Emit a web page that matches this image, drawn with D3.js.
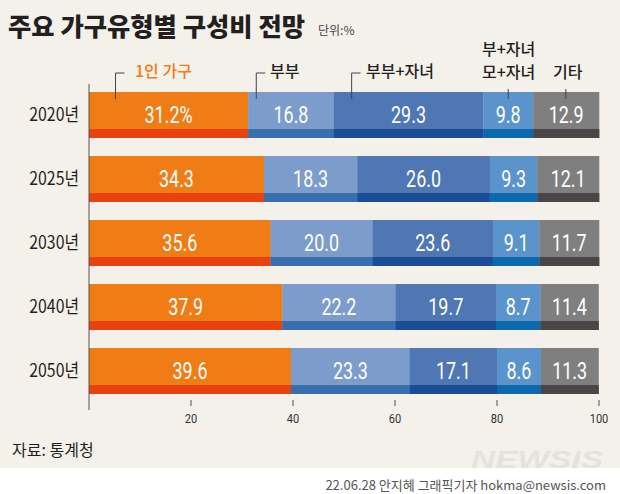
<!DOCTYPE html>
<html><head><meta charset="utf-8">
<script src="https://cdn.jsdelivr.net/npm/d3@7"></script>
<style>
html,body{margin:0;padding:0;background:#fff;}
svg{display:block;}
</style></head>
<body>
<svg id="c" width="620" height="494"></svg>
<script>
const years = ["2020년","2025년","2030년","2040년","2050년"];
const seriesNames = ["1인 가구","부부","부부+자녀","부+자녀/모+자녀","기타"];
const oneP   = [31.2, 34.3, 35.6, 37.9, 39.6];
const couple = [16.8, 18.3, 20.0, 22.2, 23.3];
const coupleKids = [29.3, 26.0, 23.6, 19.7, 17.1];
const singleParent = [9.8, 9.3, 9.1, 8.7, 8.6];
const other = [12.9, 12.1, 11.7, 11.4, 11.3];
const ticks = [20, 40, 60, 80, 100];

const fills = ["#EF7C15","#7C9DCC","#4F77B4","#5B94CC","#7F7F7F"];
const stripes = ["#E8420E","#3A6FAE","#1E4B97","#0C69AD","#4A4546"];

const svg = d3.select("#c");
const W = 620, H = 494;
svg.append("rect").attr("width",W).attr("height",468).attr("fill","#F4F1EB");
svg.append("rect").attr("y",468).attr("width",W).attr("height",H-468).attr("fill","#FFFFFF");

const x = d3.scaleLinear().domain([0,100]).range([89,599]);
const y = d3.scalePoint().domain(years).range([92,348]);

const allSeries = [oneP, couple, coupleKids, singleParent, other];
const rows = years.map((yr,i)=>{
  let acc = 0;
  return allSeries.map((s,k)=>{ const d={year:yr,k,v:s[i],x0:acc,x1:acc+s[i]}; acc+=s[i]; return d;});
});

const bh = 46, sh = 9;
const g = svg.append("g");
rows.forEach((row,i)=>{
  const y0 = y(years[i]);
  row.forEach(d=>{
    g.append("rect").attr("x",x(d.x0)).attr("y",y0).attr("width",x(d.x1)-x(d.x0)+0.3).attr("height",bh).attr("fill",fills[d.k]);
    g.append("rect").attr("x",x(d.x0)).attr("y",y0+bh-sh).attr("width",x(d.x1)-x(d.x0)+0.3).attr("height",sh).attr("fill",stripes[d.k]);
    g.append("g").attr("transform",`translate(${(x(d.x0)+x(d.x1))/2},${y0+30.5}) scale(0.78,1)`)
      .append("text").attr("text-anchor","middle").attr("fill","#fff")
      .style("font-family","Roboto,'Liberation Sans',sans-serif")
      .style("font-size","23px")
      .text(d.k===0 && i===0 ? d.v.toFixed(1)+"%" : d.v.toFixed(1));
  });
  svg.append("g").attr("transform",`translate(79,${y0+29}) scale(0.88,1)`)
    .append("text").attr("text-anchor","end")
    .attr("fill","#231F20").style("font-family","'Noto Sans CJK KR',sans-serif").style("font-weight","400").style("font-size","18px")
    .text(years[i]);
});

// axis
svg.append("line").attr("x1",89).attr("x2",89).attr("y1",84).attr("y2",410).attr("stroke","#555").attr("stroke-width",1);
const ax = svg.append("g");
ticks.forEach(t=>{
  ax.append("line").attr("x1",x(t)).attr("x2",x(t)).attr("y1",400).attr("y2",406).attr("stroke","#555");
  ax.append("g").attr("transform",`translate(${x(t)},423) scale(0.85,1)`)
    .append("text").attr("text-anchor","middle")
    .attr("fill","#333").style("font-family","Roboto,sans-serif").style("font-size","13px").text(t);
});

// title
svg.append("text").attr("x",8).attr("y",36).attr("fill","#231F20")
  .style("font-family","'Noto Sans CJK KR',sans-serif").style("font-weight","900").style("font-size","25px")
  .attr("textLength",297).attr("lengthAdjust","spacingAndGlyphs")
  .text("주요 가구유형별 구성비 전망");
svg.append("text").attr("x",318).attr("y",35).attr("fill","#444")
  .style("font-family","'Noto Sans CJK KR',sans-serif").style("font-size","12px").text("단위:%");

// legend labels with leaders
const lf = "'Noto Sans CJK KR',sans-serif";
function leader(xp, y1, hook){
  const p = d3.path();
  if(hook){ p.moveTo(xp+hook, y1); p.lineTo(xp, y1); } else p.moveTo(xp,y1);
  p.lineTo(xp, 99);
  svg.append("path").attr("d",p.toString()).attr("fill","none").attr("stroke","#444").attr("stroke-width",1);
}
leader(x(5.2), 73, 9);
leader(x(32.8), 73, 9);
leader(x(51.5), 73, 9);
leader(x(82.2), 89, 0);
leader(x(93.5), 89, 0);
function lab(t, xp, yp, col){
  svg.append("text").attr("x",xp).attr("y",yp).attr("fill",col||"#231F20")
    .style("font-family",lf).style("font-size","16px").style("font-weight","500").text(t);
}
lab(seriesNames[0], 135, 77, "#EF7C15");
lab(seriesNames[1], 270, 77);
lab(seriesNames[2], 366, 77);
lab("부+자녀", 482, 55);
lab("모+자녀", 482, 78);
lab(seriesNames[4], 553, 78);

// source
svg.append("text").attr("x",12).attr("y",456).attr("fill","#231F20")
  .style("font-family",lf).style("font-size","16px").text("자료: 통계청");

// watermark
svg.append("text").attr("x",603).attr("y",468).attr("text-anchor","end").attr("fill","#E4E2DE")
  .style("font-family","'Liberation Sans','DejaVu Sans',sans-serif").style("font-weight","700").style("font-style","italic")
  .style("font-size","23px").attr("textLength",132).attr("lengthAdjust","spacingAndGlyphs").text("NEWSIS");
svg.append("text").attr("x",606).attr("y",490).attr("text-anchor","end").attr("fill","#555")
  .style("font-family","'Liberation Sans Narrow',"+lf).style("font-size","13px").text("22.06.28 안지혜 그래픽기자 hokma@newsis.com");
</script>
</body></html>
